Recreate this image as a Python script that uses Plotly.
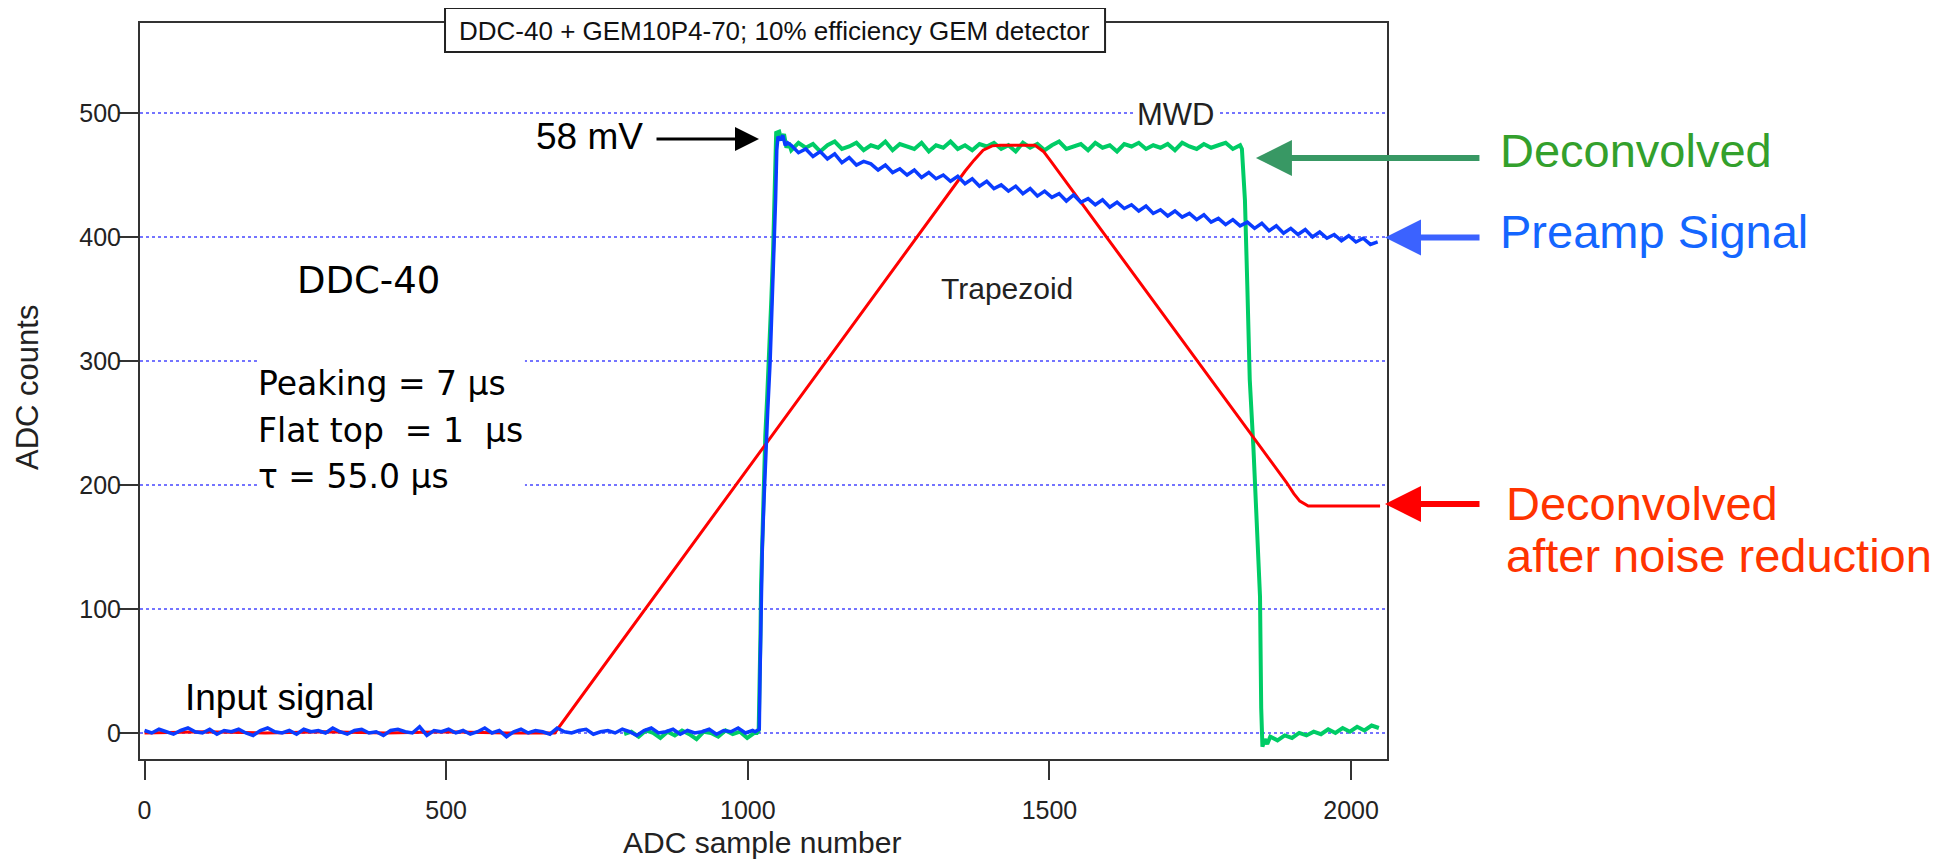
import plotly.graph_objects as go

# ---------------- data ----------------
STEP = 12  # sample spacing used for the noisy stretches

# Preamp (blue): baseline noise, sharp rise, slow exponential-like decay
BLUE_PRE_START = 0
BLUE_PRE_Y = [2, 0, 3, 1, -1, 2, 4, 1, 0, 3,
              -1, 2, 1, 3, 0, -2, 2, 4, 1, 0,
              2, -1, 3, 1, 2, 0, 4, 1, -1, 2,
              3, 0, 1, -2, 2, 3, 1, 0, 5, -2,
              2, 1, 3, 0, 2, -1, 1, 4, 0, 2,
              -3, 1, 3, 0, 2, 1, -1, 4, 1, 0,
              2, 3, -1, 1, 2, 0, 3, 1, -2, 2,
              4, 0, 1, 3, -1, 2, 0, 1, 3, -1,
              2, 1, 4, 0, 2]
BLUE_RISE_X = [1012, 1016, 1019, 1020, 1021, 1022, 1024, 1027, 1030, 1033,
               1037, 1040, 1043, 1046, 1048, 1050, 1054, 1058, 1062, 1066]
BLUE_RISE_Y = [1, 2, 3, 40, 75, 110, 150, 190, 230, 260,
               300, 340, 380, 430, 470, 481, 478, 482, 474, 476]
BLUE_DECAY_START = 1072
BLUE_DECAY_Y = [474, 468, 471, 465, 469, 463, 467, 460, 464, 458,
                461, 459, 454, 458, 452, 455, 450, 454, 448, 452,
                447, 450, 445, 449, 443, 447, 441, 445, 439, 442,
                437, 441, 435, 439, 433, 437, 432, 435, 429, 434,
                428, 431, 426, 430, 424, 428, 423, 426, 421, 425,
                419, 422, 417, 421, 416, 419, 414, 418, 412, 415,
                410, 414, 409, 412, 407, 411, 405, 409, 403, 407,
                402, 406, 400, 404, 399, 402, 397, 401, 396, 399,
                394, 396]

# MWD / deconvolved (green)
GREEN_PRE_START = 795
GREEN_PRE_Y = [-1, 1, -3, 2, 0, -4, 1, -2, 2, -1, -5, 1, 0, -3, 2, -1, 1, -4, 0]
GREEN_RISE_X = [1015, 1018, 1020, 1021, 1022, 1024, 1026, 1029, 1032, 1036,
                1039, 1042, 1044, 1046, 1047, 1052, 1056, 1060, 1064, 1068]
GREEN_RISE_Y = [0, 2, 40, 80, 120, 160, 200, 240, 270, 310,
                350, 390, 430, 470, 484, 485, 478, 483, 472, 476]
GREEN_TOP_START = 1072
GREEN_TOP_Y = [470, 476, 472, 475, 469, 474, 477, 471, 473, 476,
               470, 474, 472, 477, 470, 475, 473, 471, 476, 469,
               474, 472, 477, 471, 474, 470, 475, 473, 476, 471,
               474, 469, 476, 472, 475, 470, 474, 477, 471, 473,
               475, 470, 476, 472, 474, 469, 475, 473, 476, 471,
               474, 472, 475, 470, 476, 473, 471, 475, 472, 474,
               476, 471, 474]
GREEN_FALL_X = [1819, 1822, 1824, 1828, 1832, 1838, 1843, 1849, 1851, 1853, 1857, 1861]
GREEN_FALL_Y = [471, 450, 430, 360, 285, 231, 170, 110, 20, -11, -5, -9]
GREEN_TAIL_START = 1866
GREEN_TAIL_Y = [-3, -6, -2, -4, 0, -2, 1, -1, 3, 0, 4, 1, 5, 2, 6, 4]

# Trapezoid after noise reduction (red)
RED_X = [0, 100, 200, 300, 400, 500, 600, 680, 1360, 1375, 1390, 1405, 1418,
         1476, 1490, 1501, 1893, 1905, 1915, 1929, 2048]
RED_Y = [0, 1, 0, 1, 0, 1, 0, 0, 453, 462, 470, 473.5, 474,
         474, 469, 462, 202, 193, 187, 183, 183]

X_TICKS = [0, 500, 1000, 1500, 2000]
Y_TICKS = [0, 100, 200, 300, 400, 500]
X_RANGE = [-7.5, 2059.5]
Y_RANGE = [-21, 572.6]


def regular(start, ys):
    return [start + STEP * i for i in range(len(ys))]


BLUE_X = regular(BLUE_PRE_START, BLUE_PRE_Y) + BLUE_RISE_X + regular(BLUE_DECAY_START, BLUE_DECAY_Y)
BLUE_Y = BLUE_PRE_Y + BLUE_RISE_Y + BLUE_DECAY_Y
GREEN_X = (regular(GREEN_PRE_START, GREEN_PRE_Y) + GREEN_RISE_X + regular(GREEN_TOP_START, GREEN_TOP_Y)
           + GREEN_FALL_X + regular(GREEN_TAIL_START, GREEN_TAIL_Y))
GREEN_Y = GREEN_PRE_Y + GREEN_RISE_Y + GREEN_TOP_Y + GREEN_FALL_Y + GREEN_TAIL_Y

# ---------------- figure ----------------
SANS = "Liberation Sans, Arial, sans-serif"
WIDE = "DejaVu Sans, Verdana, sans-serif"
TICKFONT = dict(family=SANS, size=25, color="#222222")

fig = go.Figure()
fig.add_trace(go.Scatter(x=GREEN_X, y=GREEN_Y, mode="lines",
                         line=dict(color="#00cc66", width=4), hoverinfo="skip"))
fig.add_trace(go.Scatter(x=RED_X, y=RED_Y, mode="lines",
                         line=dict(color="#ff0000", width=3), hoverinfo="skip"))
fig.add_trace(go.Scatter(x=BLUE_X, y=BLUE_Y, mode="lines",
                         line=dict(color="#0a3cff", width=3.5), hoverinfo="skip"))
# empty trace that carries the label-only overlay axes
fig.add_trace(go.Scatter(x=[], y=[], xaxis="x2", yaxis="y2", hoverinfo="skip"))

axis_common = dict(
    showline=True, linewidth=2, linecolor="#333333", mirror=True,
    ticks="outside", ticklen=19, tickwidth=2, tickcolor="#333333",
    showticklabels=False, zeroline=False,
)
# label-carrying axes: invisible ticks just set the label distance
label_axis = dict(showline=False, ticks="outside", tickcolor="rgba(0,0,0,0)",
                  showgrid=False, zeroline=False, tickfont=TICKFONT)

fig.update_layout(
    width=1940, height=853,
    margin=dict(l=132, r=561, t=15, b=102, pad=0),
    paper_bgcolor="white", plot_bgcolor="white",
    showlegend=False,
    xaxis=dict(range=X_RANGE, tickvals=X_TICKS, showgrid=False, **axis_common),
    yaxis=dict(range=Y_RANGE, tickvals=Y_TICKS, showgrid=True,
               gridcolor="#7474ff", gridwidth=2, griddash="dot", **axis_common),
    xaxis2=dict(range=X_RANGE, tickvals=X_TICKS, overlaying="x", anchor="y2", side="bottom",
                ticklen=29, **label_axis),
    yaxis2=dict(range=Y_RANGE, tickvals=Y_TICKS, overlaying="y", anchor="x2", side="left",
                ticklen=13, **label_axis),
)

shapes = [
    # title box
    dict(type="rect", xref="paper", yref="paper", x0=0.2446, x1=0.7739, y0=0.9606, y1=1.0204,
         line=dict(color="#222222", width=2), fillcolor="white", layer="above"),
    # white patch behind the parameter text block
    dict(type="rect", xref="paper", yref="paper", x0=0.0938, x1=0.3087, y0=0.3519, y1=0.5489,
         line=dict(width=0), fillcolor="white", layer="above"),
    # white patch behind "MWD"
    dict(type="rect", xref="paper", yref="paper", x0=0.7979, x1=0.8637, y0=0.8573, y1=0.8954,
         line=dict(width=0), fillcolor="white", layer="above"),
]
fig.update_layout(shapes=shapes)


def text(x, y, s, size, family=SANS, color="black", xanchor="left", angle=0):
    fig.add_annotation(x=x, y=y, xref="paper", yref="paper", text=s, showarrow=False,
                       xanchor=xanchor, yanchor="middle", textangle=angle,
                       font=dict(family=family, size=size, color=color))


def arrow(x, y, ax, color, width, size):
    fig.add_annotation(x=x, y=y, xref="paper", yref="paper", text="", showarrow=True,
                       ax=ax, ay=0, arrowhead=2, arrowwidth=width, arrowsize=size,
                       arrowcolor=color)


text(0.5092, 0.9892, "DDC-40 + GEM10P4-70; 10% efficiency GEM detector", 26, xanchor="center", color="#111111")
text(0.1243, 0.6508, "DDC-40", 37, family=WIDE)
text(0.0930, 0.5102, "Peaking = 7 \u00b5s", 33, family=WIDE)
text(0.0930, 0.4463, "Flat top\u00a0 = 1\u00a0 \u00b5s", 33, family=WIDE)
text(0.0930, 0.3838, "\u03c4 = 55.0 \u00b5s", 33, family=WIDE)
text(0.3160, 0.8458, "58 mV", 37)
text(0.0345, 0.0842, "Input signal", 37)
text(0.8300, 0.8757, "MWD", 31, xanchor="center", color="#222222")
text(0.6407, 0.6399, "Trapezoid", 30, color="#222222")
text(1.0890, 0.8268, "Deconvolved", 47, color="#33a02c")
text(1.0890, 0.7167, "Preamp Signal", 47, color="#1466ff")
text(1.0938, 0.3465, "Deconvolved", 47, color="#ff3300")
text(1.0938, 0.2765, "after noise reduction", 47, color="#ff3300")
# axis titles
text(0.4987, -0.1141, "ADC sample number", 30, xanchor="center", color="#222222")
text(-0.0898, 0.5041, "ADC counts", 31, xanchor="center", color="#222222", angle=-90)

arrow(0.4964, 0.8424, -104, "black", 3, 1.6)
arrow(0.8949, 0.8166, 225, "#389864", 6, 1.2)
arrow(0.9984, 0.7086, 96, "#3b62ff", 6, 1.2)
arrow(0.9984, 0.3465, 96, "#ff0000", 6, 1.2)

fig.write_html("out.html")
